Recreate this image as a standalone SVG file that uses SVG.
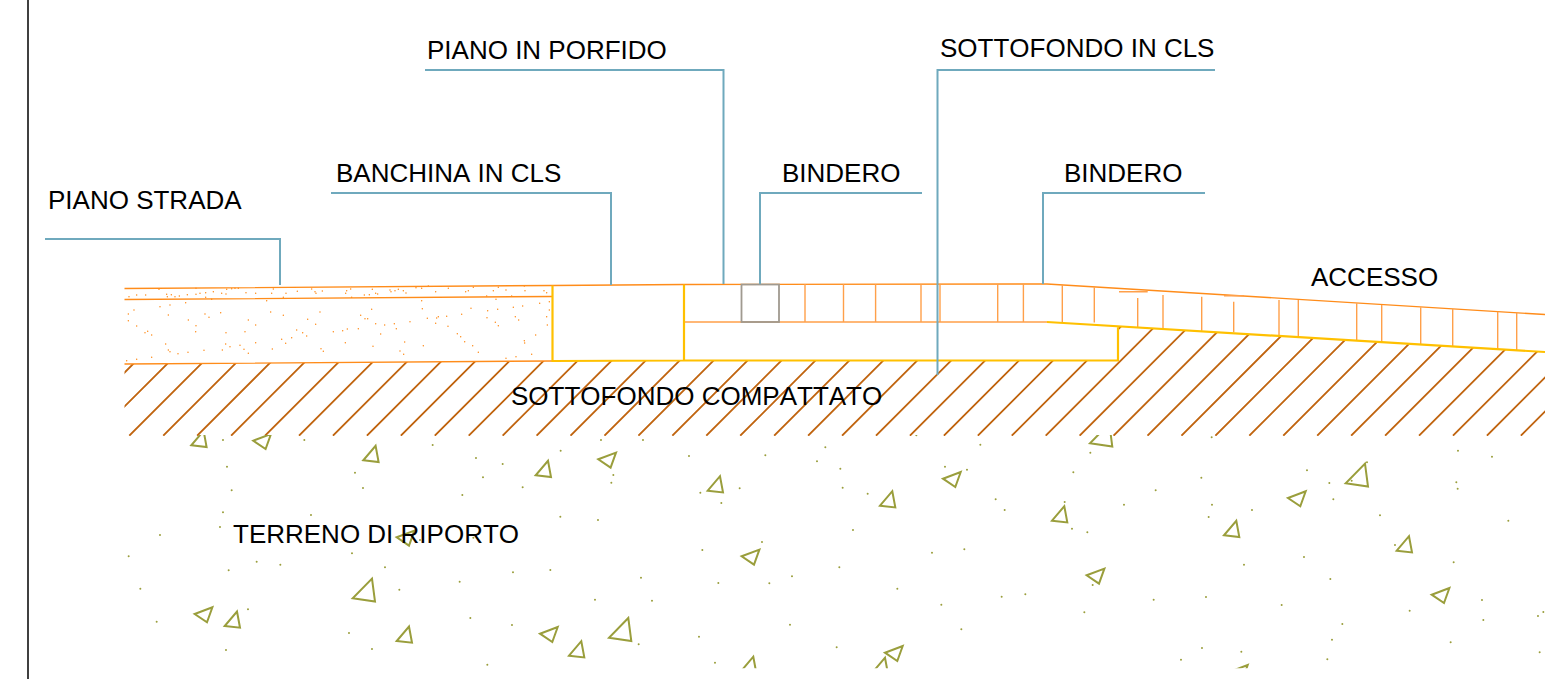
<svg xmlns="http://www.w3.org/2000/svg" xmlns:xlink="http://www.w3.org/1999/xlink" width="1545" height="679" viewBox="0 0 1545 679">
<style>
.lbl{font-family:"Liberation Sans",Arial,sans-serif;font-size:26px;fill:#000;font-kerning:none}
.ldr{fill:none;stroke:#6fa9bd;stroke-width:2}
.or{fill:none;stroke:#ff8c1a;stroke-width:1.4}
.orl{fill:none;stroke:#ffa04a;stroke-width:1.4}
.ye{fill:none;stroke:#ffc000;stroke-width:2.2}
.tri{fill:none;stroke:#9a9e3c;stroke-width:2}
</style>
<defs>
<clipPath id="hatchClip"><path d="M124.5 364L552 361L684 360.5L1118 360L1118 326.3L1545 352V436H124.5Z"/></clipPath>
<clipPath id="groundClip"><rect x="0" y="435" width="1545" height="233.3"/></clipPath>
<polygon id="ta" class="tri" points="0,0 15.3,1.7 12.3,-14.5"/>
<polygon id="tb" class="tri" points="0,0 17.7,-6.7 12.3,8.3"/>
<polygon id="tl" class="tri" points="0,0 22.3,3.3 19.3,-19.7"/>
</defs>
<rect width="1545" height="679" fill="#fff"/>
<path d="M28 0V679" stroke="#000" stroke-width="1.5" fill="none"/>

<g id="hatch" clip-path="url(#hatchClip)"><path fill="none" stroke="#c0640f" stroke-width="1.8" d="M61.42 435.7l115-115M95.36 435.7l115-115M129.3 435.7l115-115M163.24 435.7l115-115M197.18 435.7l115-115M231.12 435.7l115-115M265.06 435.7l115-115M299 435.7l115-115M332.94 435.7l115-115M366.88 435.7l115-115M400.82 435.7l115-115M434.76 435.7l115-115M468.7 435.7l115-115M502.64 435.7l115-115M536.58 435.7l115-115M570.52 435.7l115-115M604.46 435.7l115-115M638.4 435.7l115-115M672.34 435.7l115-115M706.28 435.7l115-115M740.22 435.7l115-115M774.16 435.7l115-115M808.1 435.7l115-115M842.04 435.7l115-115M875.98 435.7l115-115M909.92 435.7l115-115M943.86 435.7l115-115M977.8 435.7l115-115M1011.74 435.7l115-115M1045.68 435.7l115-115M1079.62 435.7l115-115M1113.56 435.7l115-115M1147.5 435.7l115-115M1181.44 435.7l115-115M1215.38 435.7l115-115M1249.32 435.7l115-115M1283.26 435.7l115-115M1317.2 435.7l115-115M1351.14 435.7l115-115M1385.08 435.7l115-115M1419.02 435.7l115-115M1452.96 435.7l115-115M1486.9 435.7l115-115M1520.84 435.7l115-115"/></g>

<g id="ground" clip-path="url(#groundClip)">
<g id="triangles">
<use href="#ta" x="191.3" y="445.3"/><use href="#ta" x="363.3" y="460.3"/><use href="#ta" x="535.7" y="475.3"/><use href="#ta" x="224.7" y="626"/><use href="#ta" x="396.7" y="641"/><use href="#ta" x="569" y="655.7"/>
<use href="#ta" x="707.7" y="490.7"/><use href="#ta" x="880" y="505.7"/><use href="#ta" x="1052" y="520.7"/><use href="#ta" x="741" y="671.2"/><use href="#ta" x="872.7" y="672.2"/><use href="#ta" x="1224" y="535.3"/><use href="#ta" x="1396.7" y="550.7"/>
<use href="#tb" x="253.3" y="440.7"/><use href="#tb" x="396.7" y="537.3"/><use href="#tb" x="194.7" y="614"/><use href="#tb" x="540" y="633.7"/><use href="#tb" x="598.3" y="459.3"/><use href="#tb" x="943" y="478.7"/><use href="#tb" x="741.7" y="556.3"/><use href="#tb" x="885" y="652.7"/><use href="#tb" x="1288" y="498"/><use href="#tb" x="1086.7" y="575.3"/><use href="#tb" x="1431.7" y="594.7"/><use href="#tb" x="1230" y="671.7"/>
<use href="#tl" x="352.7" y="598.3"/><use href="#tl" x="609" y="637.7"/><use href="#tl" x="1090" y="443.3"/><use href="#tl" x="1345.7" y="483.3"/>
</g>
<g fill="none" stroke="#9a9e3c" stroke-width="6" stroke-linecap="round">
<path transform="translate(110 430) scale(.33333)" d="M339 30h0M583 30h0M968 45h0M1352 62h0M1098 84h0M1178 102h0M351 110h0M735 128h0M1119 142h0M1238 172h0M365 181h0M759 174h0M1057 195h0M339 247h0M603 255h0M1351 260h0M330 291h0M150 315h0M930 330h0M1090 323h0M56 379h0M726 370h0M440 395h0M511 404h0M825 412h0M356 421h0M1321 420h0M1209 427h0M1049 455h0M91 476h0M868 479h0M414 538h0M1081 564h0M140 575h0M1206 585h0M717 609h0M786 657h0M348 660h0M1132 704h0"/>
<path transform="translate(580 430) scale(.33333)" d="M63 30h0M189 30h0M736 52h0M1201 44h0M327 78h0M556 76h0M711 94h0M1095 110h0M781 116h0M1161 119h0M100 135h0M94 158h0M479 175h0M361 188h0M788 173h0M863 191h0M424 219h0M1247 208h0M1274 240h0M54 270h0M819 300h0M546 336h0M367 360h0M1056 368h0M1153 358h0M778 412h0M636 439h0M183 443h0M415 459h0M568 460h0M952 476h0M45 509h0M216 512h0M1265 500h0M1336 493h0M1084 524h0M630 584h0M1144 598h0M357 620h0M176 643h0M770 652h0M405 698h0M1009 16h0"/>
<path transform="translate(1060 430) scale(.33333)" d="M455 22h0M1194 62h0M1296 80h0M91 68h0M741 121h0M921 97h0M40 127h0M424 143h0M808 159h0M875 152h0M1189 157h0M1193 176h0M287 181h0M820 208h0M192 224h0M456 224h0M14 216h0M576 240h0M446 261h0M960 256h0M1345 272h0M36 296h0M82 307h0M1005 345h0M732 381h0M1181 397h0M552 404h0M98 465h0M811 447h0M438 501h0M281 509h0M1266 510h0M1450 546h0M1434 558h0M665 525h0M1049 542h0M73 547h0M847 582h0M1270 570h0M816 629h0M1172 637h0M426 654h0M544 665h0M363 689h0M802 688h0M1439 667h0"/>
</g>
</g>

<g id="asphalt-dots">
<path transform="translate(110 270) scale(.33333)" fill="none" stroke="#ff8c1a" stroke-width="4.5" stroke-linecap="round" d="M57 80h0M80 75h0M107 75h0M147 58h0M170 73h0M184 74h0M172 80h0M195 80h0M208 78h0M232 74h0M258 73h0M270 70h0M287 68h0M287 82h0M310 65h0M335 70h0M350 58h0M348 72h0M365 56h0M375 55h0M385 55h0M408 68h0M437 70h0M490 57h0M485 70h0M520 82h0M528 70h0M562 64h0M605 57h0M615 65h0M618 70h0M637 63h0M707 70h0M710 62h0M722 57h0M725 82h0M763 75h0M778 74h0M787 58h0M797 70h0M803 72h0M840 60h0M843 65h0M855 62h0M865 58h0M880 62h0M888 69h0M918 53h0M935 55h0M955 48h0M977 65h0M1015 55h0M1067 65h0M1075 62h0M1090 52h0M1130 78h0M1150 62h0M1165 52h0M1188 60h0M1205 78h0M1243 48h0M1245 62h0M1302 62h0M1310 68h0M258 55h0M150 110h0M180 105h0M227 98h0M305 88h0M470 92h0M72 120h0M55 132h0M55 152h0M80 168h0M105 188h0M113 184h0M125 195h0M175 135h0M235 150h0M258 167h0M257 185h0M285 132h0M297 142h0M332 128h0M415 150h0M437 165h0M405 185h0M348 188h0M482 126h0M520 136h0M630 126h0M593 148h0M617 163h0M560 180h0M578 188h0M590 198h0M545 203h0M515 208h0M527 220h0M437 218h0M347 222h0M360 230h0M390 226h0M402 238h0M415 250h0M337 240h0M282 241h0M234 247h0M204 251h0M180 245h0M175 240h0M167 222h0M125 262h0M80 268h0M50 272h0M487 237h0M633 236h0M640 244h0M670 185h0M698 182h0M712 177h0M745 176h0M706 218h0M752 136h0M765 146h0M773 146h0M785 118h0M797 161h0M812 192h0M824 165h0M853 161h0M859 176h0M884 216h0M789 229h0M870 243h0M881 253h0M900 155h0M940 227h0M935 92h0M937 116h0M952 145h0M977 160h0M980 144h0M985 140h0M1010 139h0M1014 169h0M1055 133h0M1083 115h0M1042 191h0M1052 200h0M1064 215h0M1088 227h0M1105 247h0M1133 122h0M1163 118h0M1131 143h0M1156 157h0M1165 167h0M1158 88h0M1210 112h0M1238 108h0M1216 140h0M1226 150h0M1243 212h0M1244 219h0M1277 195h0M1265 253h0M1218 260h0M1188 265h0M1289 100h0M1310 140h0M1312 165h0M1318 95h0M1318 120h0"/>
</g>

<g id="section">
<path class="or" d="M124.5 288.5L552 285.5L684 284.5L1047 284L1545 314.5M124.5 299.5L552 296.5M124.5 364L552 361"/>
<path class="orl" d="M684 322H1047M805 284V322M843.5 284V322M875.6 284V322M921 284V322M940 284V322M997.7 284V322M1023.4 284V322M1062.3 285V322.5M1094.3 287.3V322.5M1137.7 298V327M1163 295V328M1201.7 296.7V330.7M1233.7 301.7V332.3M1279 300V335M1298.3 300V336.7M1356.7 303.3V340M1381.7 305V341.7M1420.7 307.3V344M1452.7 309V346M1497.7 311.7V349M1516.7 312.7V350M1119 291.7H1147.7M1224 295.7H1244"/>
<path class="ye" d="M552.5 285.5V361L684 360.5H1118V326.3M684 284.5V360.5M1047 322L1545 352"/>
<rect id="bindero-block" x="741.5" y="284.5" width="37.5" height="37.5" fill="none" stroke="#a09a90" stroke-width="1.8"/>
</g>

<g id="connectors">
<path class="ldr" d="M45 239H280V285"/>
<path class="ldr" d="M331 193H611V285"/>
<path class="ldr" d="M425 70H723.5V284"/>
<path class="ldr" d="M922 193H760V284"/>
<path class="ldr" d="M1215 70H937.5V375"/>
<path class="ldr" d="M1205 193H1043V284"/>
</g>

<g id="piano-strada"><text class="lbl" x="48" y="209">PIANO STRADA</text></g>
<g id="banchina"><text class="lbl" x="336" y="182">BANCHINA IN CLS</text></g>
<g id="piano-porfido"><text class="lbl" x="427" y="59">PIANO IN PORFIDO</text></g>
<g id="bindero-1"><text class="lbl" x="782" y="182">BINDERO</text></g>
<g id="sottofondo-cls"><text class="lbl" x="940" y="57">SOTTOFONDO IN CLS</text></g>
<g id="bindero-2"><text class="lbl" x="1064" y="182">BINDERO</text></g>
<g id="accesso"><text class="lbl" x="1311" y="286">ACCESSO</text></g>
<g id="sottofondo-compattato"><text class="lbl" x="511" y="405">SOTTOFONDO COMPATTATO</text></g>
<g id="terreno"><text class="lbl" x="233" y="543">TERRENO DI RIPORTO</text></g>
</svg>
